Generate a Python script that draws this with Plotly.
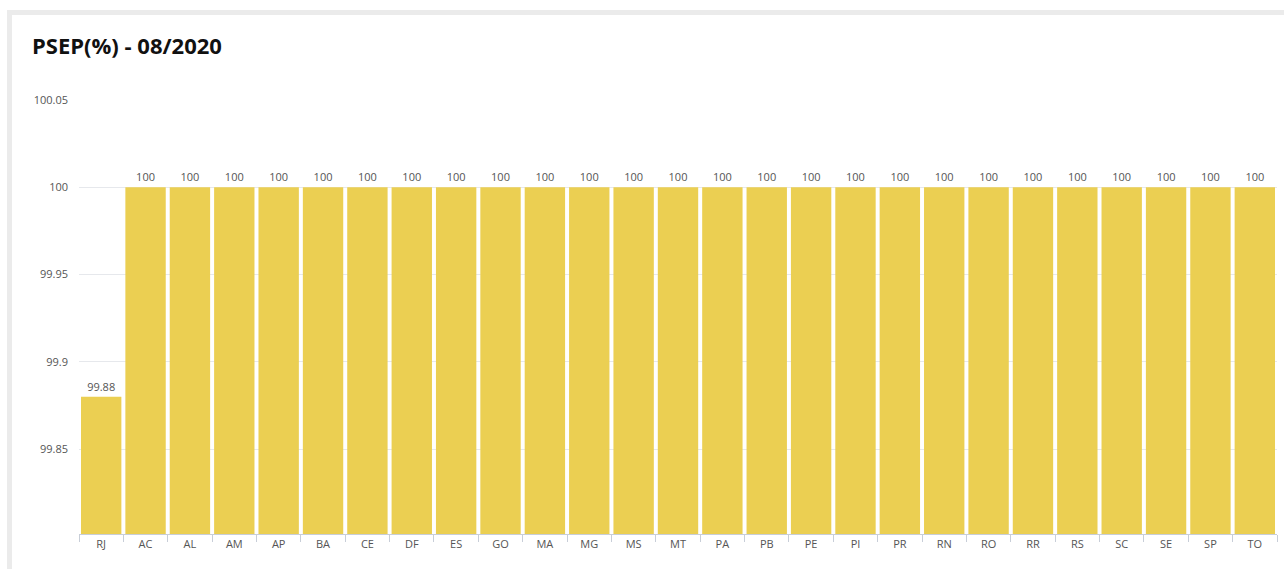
import plotly.graph_objects as go

states = ["RJ", "AC", "AL", "AM", "AP", "BA", "CE", "DF", "ES", "GO", "MA", "MG", "MS", "MT",
          "PA", "PB", "PE", "PI", "PR", "RN", "RO", "RR", "RS", "SC", "SE", "SP", "TO"]
psep = [99.88] + [100] * 26
labels = ["99.88"] + ["100"] * 26
y_ticks = [99.85, 99.9, 99.95, 100, 100.05]
y_tick_text = ["99.85", "99.9", "99.95", "100", "100.05"]

W, H = 1284, 569
L, R, T, B = 79, 7, 100, 35
pw, ph = W - L - R, H - T - B

FONT = "Open Sans"

fig = go.Figure(go.Bar(
    x=states, y=psep, text=labels, textposition="outside",
    textfont=dict(size=11, color="#555555", family=FONT),
    marker=dict(color="#EBCF52", line=dict(width=0)),
    cliponaxis=False, hoverinfo="x+y",
))

def px_x(p):
    return (p - L) / pw

def px_y(p):
    return (H - B - p) / ph

fig.update_layout(
    width=W, height=H,
    margin=dict(l=L, r=R, t=T, b=B),
    paper_bgcolor="white", plot_bgcolor="white",
    bargap=0.09, showlegend=False,
    font=dict(family=FONT, color="#555555", size=11),
    title=dict(text="<b>PSEP(%) - 08/2020</b>", x=32 / W, xanchor="left",
               y=1 - 46 / H, yanchor="middle",
               font=dict(size=22, color="#111111", family=FONT)),
    shapes=[dict(type="rect", xref="paper", yref="paper",
                 x0=px_x(9.5), x1=px_x(W + 20), y0=px_y(H + 20), y1=px_y(12.5),
                 line=dict(color="#EBEBEB", width=5), fillcolor="rgba(0,0,0,0)", layer="below")],
    xaxis=dict(showgrid=False, showline=True, linecolor="#C8CED8", linewidth=1,
               ticks="outside", tickson="boundaries", ticklen=7, tickcolor="#C8CED8",
               tickfont=dict(size=11, color="#555555"), fixedrange=True),
    yaxis=dict(range=[99.8013, 100.05], tickvals=y_ticks, ticktext=y_tick_text,
               showgrid=True, gridcolor="#E6E8EC", gridwidth=1, zeroline=False,
               showline=False, ticks="", ticklabelstandoff=10,
               tickfont=dict(size=11, color="#555555")),
)

fig.write_html("out.html", config={"displayModeBar": False},
               post_script="document.body.style.margin='0';")
